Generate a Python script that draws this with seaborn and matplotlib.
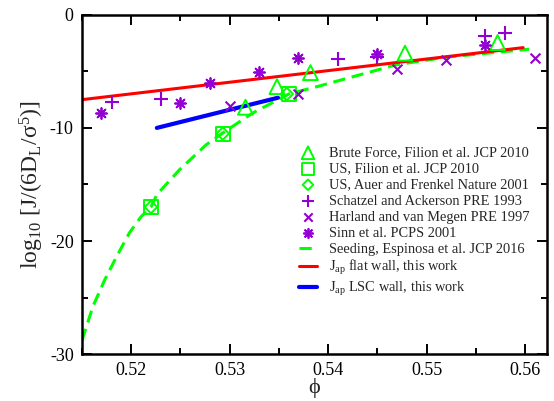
import numpy as np
import pandas as pd
import seaborn as sns
import matplotlib.pyplot as plt
from matplotlib.ticker import MultipleLocator

# data
bf_phi = [0.5316, 0.5348, 0.5382, 0.5478, 0.5572]
bf_logj = [-8.17, -6.35, -5.11, -3.39, -2.45]

us_filion_phi = [0.5220, 0.5293, 0.5360]
us_filion_logj = [-17.0, -10.5, -7.0]

us_auer_phi = [0.5220, 0.5293, 0.5358]
us_auer_logj = [-17.0, -10.5, -7.0]

schatzel_phi = [0.5180, 0.5230, 0.5410, 0.5450, 0.5559, 0.5580]
schatzel_logj = [-7.67, -7.46, -3.92, -3.70, -1.86, -1.62]

harland_phi = [0.5300, 0.5369, 0.5470, 0.5520, 0.5610]
harland_logj = [-8.05, -6.99, -4.78, -3.98, -3.83]

sinn_phi = [0.51695, 0.5250, 0.52795, 0.5330, 0.5369, 0.5450, 0.5559]
sinn_logj = [-8.70, -7.76, -6.04, -5.02, -3.83, -3.42, -2.65]

seed_phi = [0.5150, 0.5161, 0.5173, 0.5185, 0.5198, 0.5210, 0.5220, 0.5226,
            0.5249, 0.5276, 0.5292, 0.5323, 0.5360, 0.5389, 0.5469, 0.5520, 0.5604]
seed_logj = [-28.8, -25.8, -23.45, -21.4, -19.3, -17.85, -17.0, -15.9,
             -13.7, -11.5, -10.5, -8.7, -7.0, -6.34, -4.42, -3.74, -3.04]

flat_phi = [0.5150, 0.5598]
flat_logj = [-7.5, -2.9]

lsc_phi = [0.5226, 0.5349]
lsc_logj = [-10.0, -7.33]

labels = ["Brute Force, Filion et al. JCP 2010",
          "US, Filion et al. JCP 2010",
          "US, Auer and Frenkel Nature 2001",
          "Schatzel and Ackerson PRE 1993",
          "Harland and van Megen PRE 1997",
          "Sinn et al. PCPS 2001",
          "Seeding, Espinosa et al. JCP 2016",
          "J$_{\\rm ap}$ flat wall, this work",
          "J$_{\\rm ap}$ LSC wall, this work"]

green = "#00ff00"
violet = "#9400d3"

sns.set_style("ticks")
plt.rcParams.update({
    "font.family": ["Liberation Serif", "DejaVu Serif"],
    "mathtext.fontset": "custom",
    "mathtext.rm": "Liberation Serif",
    "mathtext.it": "Liberation Serif:italic",
    "mathtext.default": "rm",
    "axes.unicode_minus": False,
    "axes.axisbelow": False,
    "axes.edgecolor": "black",
    "axes.linewidth": 1.8,
    "xtick.direction": "in", "ytick.direction": "in",
    "xtick.top": True, "ytick.right": True,
    "xtick.bottom": True, "ytick.left": True,
    "xtick.color": "black", "ytick.color": "black",
    "xtick.major.size": 7, "ytick.major.size": 7,
    "xtick.minor.size": 4, "ytick.minor.size": 4,
    "xtick.major.width": 1.4, "ytick.major.width": 1.4,
    "xtick.minor.width": 1.4, "ytick.minor.width": 1.4,
    "xtick.major.pad": 6, "ytick.major.pad": 6,
    "xtick.labelsize": 13, "ytick.labelsize": 13,
})

fig = plt.figure(figsize=(5.54, 4.01), dpi=100)
ax = fig.add_axes([0.148, 0.117, 0.839, 0.846])

handles = []

def grab_line():
    handles.append(ax.lines[-1])

def grab_pts():
    handles.append(ax.collections[-1])

sns.scatterplot(x=bf_phi, y=bf_logj, ax=ax, marker="^", s=115,
                facecolors="none", edgecolor=green, linewidth=1.4, zorder=3)
grab_pts()
sns.scatterplot(x=us_filion_phi, y=us_filion_logj, ax=ax, marker="s", s=100,
                facecolors="none", edgecolor=green, linewidth=1.4, zorder=3)
grab_pts()
sns.scatterplot(x=us_auer_phi, y=us_auer_logj, ax=ax, marker="D", s=40,
                facecolors="none", edgecolor=green, linewidth=1.4, zorder=3)
grab_pts()
sns.scatterplot(x=schatzel_phi, y=schatzel_logj, ax=ax, marker="+", s=110,
                color=violet, linewidth=1.5, zorder=3)
grab_pts()
sns.scatterplot(x=harland_phi, y=harland_logj, ax=ax, marker="x", s=50,
                color=violet, linewidth=1.5, zorder=3)
grab_pts()
sns.scatterplot(x=sinn_phi, y=sinn_logj, ax=ax, marker=(8, 2, 0), s=62,
                color=violet, linewidth=1.3, zorder=3)
grab_pts()

sns.lineplot(x=seed_phi, y=seed_logj, ax=ax, color=green, lw=2.2,
             linestyle=(0, (4, 2.2)), sort=False, errorbar=None, zorder=2)
grab_line()
sns.lineplot(x=flat_phi, y=flat_logj, ax=ax, color="red", lw=2.2,
             errorbar=None, zorder=2)
grab_line()
sns.lineplot(x=lsc_phi, y=lsc_logj, ax=ax, color="blue", lw=3.0,
             errorbar=None, zorder=2)
grab_line()

ax.set_xlim(0.515, 0.5622)
ax.set_ylim(-30, 0)
ax.xaxis.set_major_locator(MultipleLocator(0.01))
ax.xaxis.set_minor_locator(MultipleLocator(0.005))
ax.yaxis.set_major_locator(MultipleLocator(10))
ax.yaxis.set_minor_locator(MultipleLocator(5))
ax.tick_params(which="both", direction="in", bottom=True, left=True,
               top=True, right=True)

ax.set_xlabel("ϕ", fontsize=16, labelpad=-1)
ax.set_ylabel("log$_{10}$ [J/(6D$_L$/σ$^5$)]", fontsize=17, labelpad=3)

ax.legend(handles, labels, loc="upper left", bbox_to_anchor=(0.466, 0.612),
          frameon=False, fontsize=10.4, handlelength=1.3, handletextpad=0.8,
          labelspacing=0.2, borderpad=0, borderaxespad=0, markerscale=0.85)

fig.savefig("out.png", dpi=100)
